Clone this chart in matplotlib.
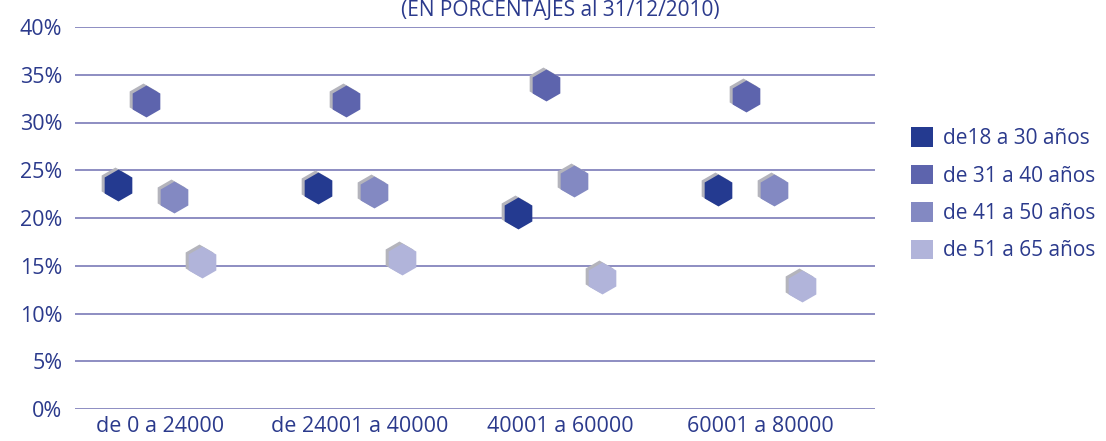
import matplotlib.pyplot as plt
import matplotlib.transforms as mtransforms
from matplotlib.patches import Patch

plt.rcParams['font.family'] = ['Open Sans', 'DejaVu Sans']

categories = ["de 0 a 24000", "de 24001 a 40000", "40001 a 60000", "60001 a 80000"]
series = ["de18 a 30 años", "de 31 a 40 años", "de 41 a 50 años", "de 51 a 65 años"]
v18_30 = [23.5, 23.1, 20.5, 22.9]
v31_40 = [32.3, 32.3, 33.9, 32.8]
v41_50 = [22.2, 22.7, 23.9, 22.9]
v51_65 = [15.4, 15.7, 13.7, 12.9]
values = [v18_30, v31_40, v41_50, v51_65]
colors = ["#243a90", "#5d64ad", "#8389c2", "#b1b4da"]
offsets = [-0.21, -0.07, 0.07, 0.21]

text_col = "#2b3a8c"
grid_col = "#8585bd"

fig = plt.figure(figsize=(11.06, 4.41), dpi=100)
ax = fig.add_axes([75/1106, 32/441, 800/1106, 382/441])

# grey copy a bit up-left gives the raised look
shadow = mtransforms.offset_copy(ax.transData, fig=fig, x=-3, y=2, units='dots')
for vals, col, off in zip(values, colors, offsets):
    xs = [i + off for i in range(len(categories))]
    ax.plot(xs, vals, linestyle='none', marker='h', markersize=23,
            color='#b4b4bc', markeredgewidth=0, transform=shadow, zorder=3)
    ax.plot(xs, vals, linestyle='none', marker='h', markersize=23,
            color=col, markeredgewidth=0, zorder=4)

ax.set_ylim(0, 40)
ax.set_xlim(-0.425, 3.575)
ax.set_yticks(range(0, 41, 5))
ax.set_yticklabels([f"{t}%" for t in range(0, 41, 5)])
ax.set_xticks(range(len(categories)))
ax.set_xticklabels(categories)
ax.tick_params(length=0, labelsize=15.5, labelcolor=text_col)
ax.tick_params(axis='y', pad=9)
ax.tick_params(axis='x', pad=5)
for s in ax.spines.values():
    s.set_visible(False)
ax.yaxis.grid(True, color=grid_col, linewidth=1.3)
ax.set_axisbelow(True)

fig.text(560/1106, 1 - 16/441, "(EN PORCENTAJES al 31/12/2010)", ha='center', va='baseline',
         fontsize=15, color=text_col)

handles = [Patch(facecolor=c, edgecolor='none') for c in colors]
fig.legend(handles, series, loc='upper left', bbox_to_anchor=(901/1106, 1 - 117/441),
           frameon=False, fontsize=15, labelcolor=text_col, handlelength=1.05,
           handleheight=1.05, handletextpad=0.45, labelspacing=0.75, borderpad=0)

fig.savefig("out.png", dpi=100)
